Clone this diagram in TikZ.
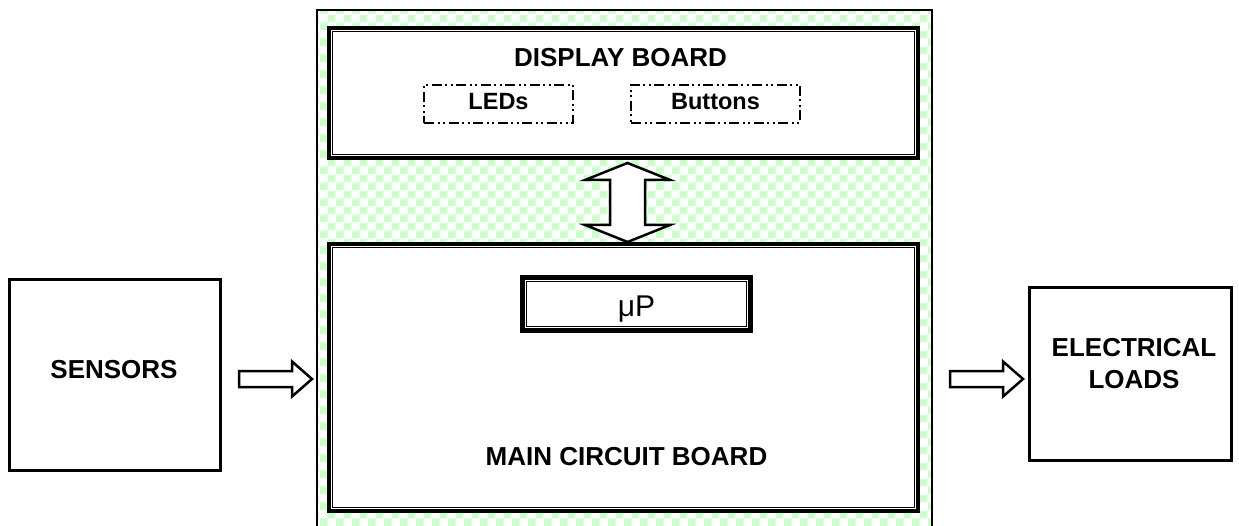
\documentclass[tikz,border=0pt]{standalone}
\usepackage{fontspec}
\setmainfont{Liberation Sans}
\usetikzlibrary{patterns.meta,calc}
\definecolor{chk}{RGB}{204,255,204}
\tikzdeclarepattern{
  name=bigcheck, type=uncolored,
  bounding box={(0pt,0pt) and (16pt,16pt)},
  tile size={(16pt,16pt)},
  code={\fill (0pt,0pt) rectangle (8pt,8pt); \fill (8pt,8pt) rectangle (16pt,16pt);}
}
\tikzset{
  board/.style={draw, fill=white, line width=4pt, inner sep=0pt},
  plainbox/.style={draw, fill=white, line width=3pt, inner sep=0pt},
  dashbox/.style={draw, line width=1.8pt, inner sep=0pt,
    dash pattern=on 10pt off 3.5pt on 2pt off 3.5pt on 2pt off 3.5pt,
    font=\fontsize{23.5}{28}\selectfont\bfseries, text height=17pt, text depth=5pt},
  bigtxt/.style={inner sep=0pt, font=\fontsize{26}{32}\selectfont\bfseries, align=center},
  blockarrow/.style={draw, fill=white, line width=2.5pt, miter limit=10},
  rarrow/.pic={\draw[blockarrow] (0,-8) -- (53,-8) -- (53,-17.5) -- (73,0) -- (53,17.5) -- (53,8) -- (0,8) -- cycle;}
}
\begin{document}
\begin{tikzpicture}[x=1pt,y=-1pt]
\useasboundingbox (0,0) rectangle (1239,526);
% green housing
\fill[pattern=bigcheck, pattern color=chk] (317,10) rectangle (932,530);
\draw[line width=2pt] (317,530) -- (317,10) -- (932,10) -- (932,530);
% boards
\node[board, minimum width=589pt, minimum height=130pt] (disp) at (623.5,93) {};
\node[board, minimum width=589pt, minimum height=267pt] (mainb) at (623.5,377.5) {};
\node[board, line width=5pt, minimum width=228pt, minimum height=53pt] (mup) at (636.5,304) {};
\foreach \n/\d in {disp/5.5,mainb/5.5,mup/6.5}
  \draw[line width=1.5pt] ([shift={(\d,\d)}]\n.north west) rectangle ([shift={(-\d,-\d)}]\n.south east);
% texts inside boards
\node[bigtxt, anchor=base] (disptxt) at (620.5,67) {DISPLAY BOARD};
\node[bigtxt, anchor=base] (maintxt) at (626.5,465) {MAIN CIRCUIT BOARD};
\node[inner sep=0pt, anchor=base, font=\fontsize{30}{34}\selectfont] (muptxt) at (636.5,317) {μP};
% LEDs / Buttons
\node[dashbox, minimum width=149pt, minimum height=38pt] (leds) at (498.5,104) {LEDs};
\node[dashbox, minimum width=169pt, minimum height=38pt] (btns) at (715.5,104) {Buttons};
% side boxes
\node[plainbox, minimum width=211pt, minimum height=191pt] (sens) at (115,375) {};
\node[bigtxt, anchor=base] (senstxt) at (114,378) {SENSORS};
\node[plainbox, minimum width=202pt, minimum height=173pt] (loads) at (1130.5,374) {};
\node[bigtxt] (loadstxt) at (1134,363.7) {ELECTRICAL\\LOADS};
% double arrow between boards
\coordinate (da) at (627.5,202.5);
\draw[blockarrow] ($(da)+(0,-39.5)$) -- ($(da)+(42.5,-22.5)$) -- ($(da)+(17.5,-22.5)$)
  -- ($(da)+(17.5,22.5)$) -- ($(da)+(42.5,22.5)$) -- ($(da)+(0,39.5)$)
  -- ($(da)+(-42.5,22.5)$) -- ($(da)+(-17.5,22.5)$) -- ($(da)+(-17.5,-22.5)$)
  -- ($(da)+(-42.5,-22.5)$) -- cycle;
% input / output arrows
\coordinate (inarrow) at (239,379);
\coordinate (outarrow) at (950,379);
\pic at (inarrow) {rarrow};
\pic at (outarrow) {rarrow};
\end{tikzpicture}
\end{document}
